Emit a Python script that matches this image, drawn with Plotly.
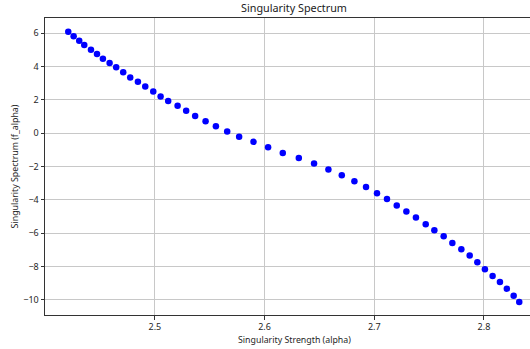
import plotly.graph_objects as go

alpha = [2.4210, 2.4259, 2.4310, 2.4356, 2.4417, 2.4472, 2.4526, 2.4587, 2.4647, 2.4711,
         2.4775, 2.4845, 2.4912, 2.4985, 2.5052, 2.5121, 2.5207, 2.5285, 2.5367, 2.5462,
         2.5556, 2.5659, 2.5768, 2.5899, 2.6032, 2.6166, 2.6312, 2.6451, 2.6582, 2.6704,
         2.6819, 2.6925, 2.7025, 2.7116, 2.7205, 2.7293, 2.7380, 2.7469, 2.7548, 2.7633,
         2.7712, 2.7794, 2.7870, 2.7940, 2.8009, 2.8079, 2.8146, 2.8209, 2.8271, 2.8322]
f_alpha = [6.096, 5.820, 5.555, 5.296, 5.014, 4.755, 4.472, 4.214, 3.955, 3.654,
           3.353, 3.089, 2.812, 2.511, 2.211, 1.928, 1.645, 1.344, 1.026, 0.725,
           0.424, 0.105, -0.220, -0.520, -0.839, -1.182, -1.483, -1.820, -2.180, -2.523,
           -2.884, -3.227, -3.606, -3.949, -4.346, -4.707, -5.068, -5.471, -5.832, -6.192,
           -6.596, -6.975, -7.353, -7.756, -8.177, -8.580, -8.941, -9.338, -9.759, -10.144]

title_text = "Singularity Spectrum"
xlabel = "Singularity Strength (alpha)"
ylabel = "Singularity Spectrum (f_alpha)"
xticks = [2.5, 2.6, 2.7, 2.8]
yticks = [-10, -8, -6, -4, -2, 0, 2, 4, 6]

FONT = "Noto Sans"

fig = go.Figure(go.Scatter(
    x=alpha, y=f_alpha, mode="markers",
    marker=dict(color="#0000ff", size=6.5, line=dict(width=0)),
))

L, R, T, B = 45, 0, 18, 34
W, H = 530, 349
pw = W - L - R
center_px = 294
fig.update_layout(
    width=W, height=H,
    margin=dict(l=L, r=R, t=T, b=B),
    paper_bgcolor="white", plot_bgcolor="white",
    showlegend=False,
    font=dict(family=FONT, size=9, color="#262626"),
    annotations=[
        dict(text=title_text, x=(center_px - L) / pw, y=1, xref="paper", yref="paper",
             xanchor="center", yanchor="bottom", yshift=1, showarrow=False,
             font=dict(size=10.8, color="#1a1a1a", family=FONT)),
        dict(text=xlabel, x=(center_px - L) / pw, y=0, xref="paper", yref="paper",
             xanchor="center", yanchor="top", yshift=-17, showarrow=False,
             font=dict(size=8.8, color="#262626", family=FONT)),
    ],
)
fig.update_xaxes(
    range=[2.3998, 2.842], tickvals=xticks, ticktext=[f"{v:.1f}" for v in xticks],
    showgrid=True, gridcolor="#c8c8c8", gridwidth=1,
    showline=True, linecolor="#333333", linewidth=1, mirror=True,
    ticks="outside", ticklen=3.5, tickcolor="#333333", zeroline=False,
)
fig.update_yaxes(
    range=[-10.92, 6.92], tickvals=yticks,
    showgrid=True, gridcolor="#c8c8c8", gridwidth=1,
    showline=True, linecolor="#333333", linewidth=1,
    ticks="outside", ticklen=3.5, tickcolor="#333333", zeroline=False,
    title=dict(text=ylabel, standoff=3, font=dict(size=8.8, family=FONT)),
)

fig.write_html("out.html")
